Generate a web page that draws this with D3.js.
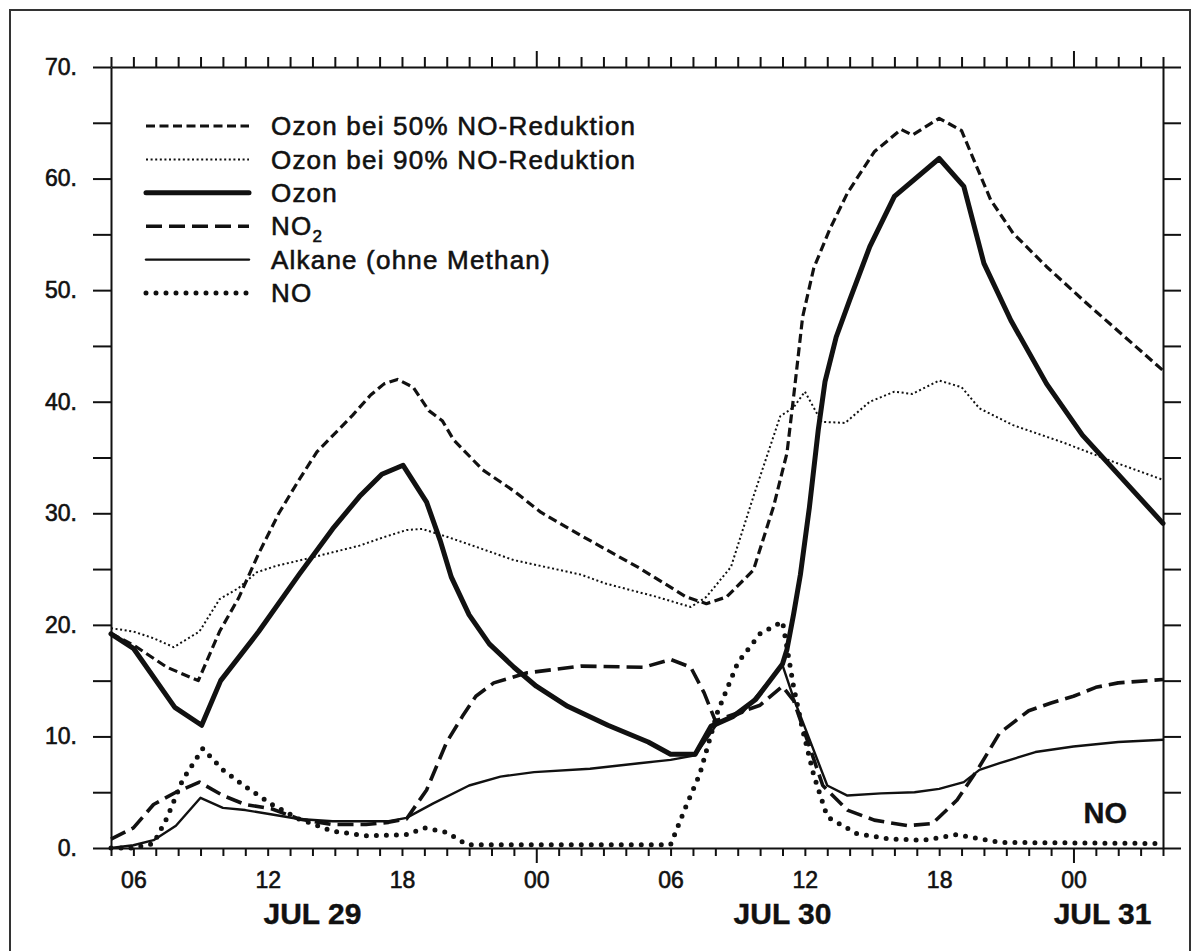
<!DOCTYPE html>
<html>
<head>
<meta charset="utf-8">
<script src="https://cdn.jsdelivr.net/npm/d3@7"></script>
<style>
  body { margin: 0; background: #fff; }
  svg { display: block; font-family: "Liberation Sans", Arial, sans-serif; }
</style>
</head>
<body>
<svg id="chart" width="1198" height="951"></svg>
<script>
// hours counted from 05:00 JUL 29 (0) to 04:00 JUL 31 (47)
const hourTicks = d3.range(0, 48);
const midnightHours = [19, 43];
const xLabelHours = [1, 7, 13, 19, 25, 31, 37, 43];
const xLabels = ["06", "12", "18", "00", "06", "12", "18", "00"];
const dateLabels = ["JUL 29", "JUL 30", "JUL 31"];
const dateLabelHours = [9, 30, 44.3];
const yTicks = d3.range(0, 71, 5);

const legendNames = ["Ozon bei 50% NO-Reduktion", "Ozon bei 90% NO-Reduktion", "Ozon", "NO2", "Alkane (ohne Methan)", "NO"];

// [hour, value]
const ozon50 = [[0,19.2],[1,18.2],[2.5,16.2],[3.9,15.0],[4.85,19.4],[5.7,22.4],[6.6,26.4],[7.5,30.0],[8.4,33.0],[9.2,35.5],[10.8,38.8],[11.6,40.6],[12.2,41.6],[12.8,42.0],[13.5,41.3],[14.2,39.2],[14.8,38.3],[15.3,36.6],[16.6,33.9],[18,32.0],[19.2,30.1],[21,28.0],[23.6,25.1],[25.7,22.5],[26.6,21.9],[27.5,22.5],[28.7,24.9],[29.6,30.6],[30.2,35.4],[30.5,40.5],[30.9,47.6],[31.4,52.0],[32.1,55.4],[32.9,58.7],[34.1,62.4],[35.3,64.4],[35.8,63.9],[37,65.4],[38,64.3],[38.5,61.9],[39.3,58.1],[40.3,55.1],[41.8,52.1],[43.6,48.8],[47,42.8]];
const ozon90 = [[0,19.7],[1,19.4],[1.9,18.8],[2.8,18.0],[3.95,19.4],[4.85,22.3],[5.7,23.3],[6.5,24.7],[7.4,25.3],[8.7,25.9],[9.9,26.5],[11.1,27.1],[12.1,27.8],[13.2,28.5],[13.9,28.6],[15,27.9],[16.3,27.0],[18,25.8],[21,24.5],[22.1,23.7],[24.4,22.5],[25.9,21.6],[26.6,22.5],[27.7,25.2],[28.7,31.5],[29.9,38.7],[30.5,39.5],[31,40.9],[31.75,38.2],[32.8,38.1],[33.9,40.0],[35,40.9],[35.8,40.7],[37,41.9],[38,41.3],[38.8,39.4],[40.3,37.9],[42.6,36.3],[44.8,34.6],[47,33.0]];
const ozon = [[0,19.2],[1,17.9],[2.85,12.6],[4.05,11.0],[4.9,15.0],[6.6,19.4],[8.4,24.5],[9.9,28.6],[11.1,31.5],[12.1,33.5],[13.05,34.3],[14.1,31.0],[14.7,27.6],[15.2,24.3],[16,20.9],[16.9,18.3],[18,16.2],[19,14.5],[20.4,12.7],[22.2,11.0],[24,9.5],[25,8.4],[26.1,8.4],[26.8,10.9],[27.8,11.8],[28.8,13.3],[30.0,16.5],[30.2,17.8],[30.5,21.0],[30.8,24.5],[31.2,30.5],[31.6,37.5],[31.9,41.8],[32.4,45.8],[33,49.1],[33.9,53.9],[35,58.4],[37,61.8],[38.1,59.3],[39,52.4],[40.2,47.3],[41.8,41.6],[43.4,37.0],[47,29.1]];
const no2 = [[0,0.8],[1,1.8],[1.9,3.9],[2.9,5.0],[3.95,5.9],[5,4.7],[6,3.9],[7.2,3.5],[8.4,2.6],[9.9,2.1],[11.4,2.1],[12.4,2.3],[13.2,2.6],[14.1,5.2],[15,9.5],[15.7,11.8],[16.3,13.6],[17.1,14.8],[18.6,15.7],[21,16.3],[23.8,16.2],[25,16.9],[25.9,16.2],[26.5,13.9],[27,11.4],[28,12.1],[29,12.8],[30,14.5],[30.5,13.2],[31.1,9.7],[31.8,5.6],[32.9,3.4],[34.1,2.5],[35.6,2.0],[36.7,2.2],[37.8,4.3],[38.8,7.3],[39.7,10.3],[41,12.3],[42,13.0],[43,13.6],[44,14.4],[45,14.8],[47,15.1]];
const alkane = [[0,0],[1,0.25],[1.9,0.7],[2.9,2.0],[4,4.5],[5,3.6],[6,3.4],[7.2,3.0],[8.4,2.6],[9.9,2.4],[11.4,2.4],[12.4,2.4],[13.2,2.7],[14.4,4.0],[16,5.6],[17.4,6.4],[18.9,6.8],[21.4,7.1],[23.6,7.6],[25,7.9],[26.1,8.3],[27.1,11.2],[28.2,12.1],[30.0,16.4],[30.5,13.4],[31.1,10.3],[32,5.6],[32.9,4.7],[34.4,4.9],[35.9,5.0],[37,5.3],[38.1,5.9],[38.8,7.0],[39.7,7.6],[41.3,8.6],[43,9.1],[45,9.5],[47,9.7]];
const no = [[0,0],[1,0],[1.9,0.4],[2.5,2.7],[3.2,6.1],[4.1,8.9],[5,7.0],[6,5.5],[7.2,3.9],[8.4,2.6],[9.9,1.5],[11.4,1.1],[13.2,1.2],[14,1.8],[15,1.4],[15.9,0.3],[25,0.3],[25.7,3.8],[26.3,6.6],[27.1,12.2],[28,16.6],[29,19.2],[30,20.3],[30.3,16.8],[30.5,14.4],[30.9,10.6],[31.4,6.5],[32,2.8],[33.3,1.3],[34.8,0.8],[36.3,0.7],[37.8,1.2],[39.7,0.5],[47,0.4]];

const ink = "#111";
const styles = [
  { data: ozon50, width: 3.2, dash: "9,4.5", cap: "butt" },
  { data: ozon90, width: 2, dash: "2,2.6", cap: "butt" },
  { data: ozon, width: 5, dash: null, cap: "round" },
  { data: no2, width: 3.6, dash: "16,7", cap: "butt" },
  { data: alkane, width: 2.4, dash: null, cap: "round" },
  { data: no, width: 5, dash: "0,10", cap: "round" }
];

const svg = d3.select("#chart");

// outer frame
svg.append("rect")
  .attr("x", 10).attr("y", 10)
  .attr("width", 1180).attr("height", 1000)
  .attr("fill", "none").attr("stroke", "#333").attr("stroke-width", 2);

const x = d3.scaleLinear().domain([0, 47]).range([111, 1163]);
const y = d3.scaleLinear().domain([0, 70]).range([848, 67]);
const tickLen = 18;

// slightly heavier text, like the printed original
function inkText(sel, w) {
  sel.attr("fill", ink).attr("stroke", ink).attr("stroke-width", w);
}

function styleAxis(g) {
  g.selectAll("path, line").attr("stroke", ink).attr("stroke-width", 2);
  g.selectAll("text").call(inkText, 0.6).style("font-size", "23px");
}

// left axis
svg.append("g")
  .attr("transform", `translate(${x(0)},0)`)
  .call(d3.axisLeft(y).tickValues(yTicks).tickSize(tickLen).tickSizeOuter(0).tickPadding(16)
    .tickFormat(d => d % 10 === 0 ? d + "." : ""))
  .call(styleAxis);

// right axis
svg.append("g")
  .attr("transform", `translate(${x(47)},0)`)
  .call(d3.axisRight(y).tickValues(yTicks).tickSize(tickLen).tickSizeOuter(0).tickFormat(""))
  .call(styleAxis);

// top axis
const topAxis = svg.append("g")
  .attr("transform", `translate(0,${y(70)})`)
  .call(d3.axisTop(x).tickValues(hourTicks).tickSize(10).tickSizeOuter(0).tickFormat(""))
  .call(styleAxis);
topAxis.selectAll(".tick").filter(d => midnightHours.includes(d)).select("line").attr("y2", -16);

// bottom axis
const bottomAxis = svg.append("g")
  .attr("transform", `translate(0,${y(0)})`)
  .call(d3.axisBottom(x).tickValues(hourTicks).tickSize(8).tickSizeOuter(0).tickPadding(16)
    .tickFormat(d => { const i = xLabelHours.indexOf(d); return i < 0 ? "" : xLabels[i]; }))
  .call(styleAxis);
bottomAxis.selectAll(".tick").filter(d => midnightHours.includes(d)).select("line").attr("y2", 15);

// date labels
svg.append("g").selectAll("text")
  .data(dateLabels)
  .join("text")
    .attr("x", (d, i) => x(dateLabelHours[i]))
    .attr("y", y(0) + 76)
    .attr("text-anchor", "middle")
    .call(inkText, 0.4)
    .style("font-size", "30px")
    .style("font-weight", "bold")
    .text(d => d);

// series
const line = d3.line().x(d => x(d[0])).y(d => y(d[1]));
svg.append("g").selectAll("path")
  .data(styles)
  .join("path")
    .attr("d", d => line(d.data))
    .attr("fill", "none")
    .attr("stroke", ink)
    .attr("stroke-width", d => d.width)
    .attr("stroke-dasharray", d => d.dash)
    .attr("stroke-linecap", d => d.cap)
    .attr("stroke-linejoin", "round");

// legend
const legend = svg.append("g");
const rows = legend.selectAll("g")
  .data(styles)
  .join("g")
    .attr("transform", (d, i) => `translate(146,${126 + i * 33.4})`);

rows.append("line")
  .attr("x1", 0).attr("x2", 103)
  .attr("stroke", ink)
  .attr("stroke-width", d => d.width)
  .attr("stroke-dasharray", d => d.dash)
  .attr("stroke-linecap", d => d.cap);

rows.append("text")
  .attr("x", 125)
  .attr("dy", "0.35em")
  .call(inkText, 0.6)
  .style("font-size", "26px")
  .style("letter-spacing", "1.2px")
  .each(function(d, i) {
    const t = d3.select(this);
    const name = legendNames[i];
    if (name === "NO2") {
      t.text("NO");
      t.append("tspan").attr("dy", 7).style("font-size", "17px").text("2");
    } else {
      t.text(name);
    }
  });

// corner label
svg.append("text")
  .attr("x", x(47) - 36)
  .attr("y", y(0) - 25)
  .attr("text-anchor", "end")
  .call(inkText, 0.4)
  .style("font-size", "29px")
  .style("font-weight", "bold")
  .text("NO");
</script>
</body>
</html>
